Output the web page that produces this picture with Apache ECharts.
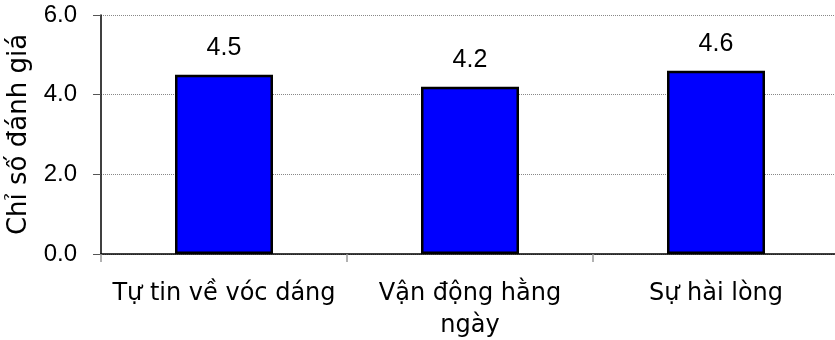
<!DOCTYPE html>
<html>
<head>
<meta charset="utf-8">
<script src="https://cdn.jsdelivr.net/npm/echarts@6/dist/echarts.min.js"></script>
<style>
  html, body { margin: 0; padding: 0; background: #fff; }
  #chart { width: 835px; height: 340px; }
</style>
</head>
<body>
<div id="chart"></div>
<script>
// Category labels (the second one wraps like in the original)
const categories = ["Tự tin về vóc dáng", "Vận động hằng\nngày", "Sự hài lòng"];
const scores = [4.5, 4.2, 4.6];
const yTicks = [0, 2, 4, 6];

const axisFont = "DejaVu Sans";
const numberFont = "Liberation Sans";

let chart = echarts.init(document.getElementById("chart"), null, { renderer: "canvas" });

chart.setOption({
  animation: false,
  grid: { left: 101, top: 15, width: 738, bottom: 86, containLabel: false, outerBoundsMode: "none" },
  xAxis: {
    type: "category",
    data: categories,
    axisLine: { lineStyle: { color: "#000", width: 1.5 } },
    axisTick: { show: true, length: 8, lineStyle: { color: "#999", width: 1.5 } },
    axisLabel: {
      margin: 24,
      color: "#000",
      fontFamily: axisFont,
      fontSize: 24,
      lineHeight: 32,
      interval: 0
    },
    splitLine: { show: false }
  },
  yAxis: {
    type: "value",
    min: yTicks[0],
    max: yTicks[yTicks.length - 1],
    interval: 2,
    name: "Chỉ số đánh giá",
    nameLocation: "middle",
    nameGap: 61,
    nameRotate: 90,
    nameTextStyle: { color: "#000", fontFamily: axisFont, fontSize: 26 },
    axisLine: { show: true, lineStyle: { color: "#000", width: 1.5 } },
    axisTick: { show: true, length: 8, lineStyle: { color: "#555" } },
    axisLabel: {
      margin: 24,
      color: "#000",
      fontFamily: numberFont,
      fontSize: 24,
      formatter: (v) => v.toFixed(1)
    },
    splitLine: { show: true, lineStyle: { color: "#888", type: "dotted", width: 1 } }
  },
  series: [
    {
      type: "bar",
      data: scores,
      barWidth: 98,
      itemStyle: { color: "#0000FF", borderColor: "#000", borderWidth: 2.5 },
      label: {
        show: true,
        position: "top",
        distance: 14,
        color: "#000",
        fontFamily: numberFont,
        fontSize: 25,
        formatter: (p) => p.value.toFixed(1)
      }
    }
  ]
});
</script>
</body>
</html>
